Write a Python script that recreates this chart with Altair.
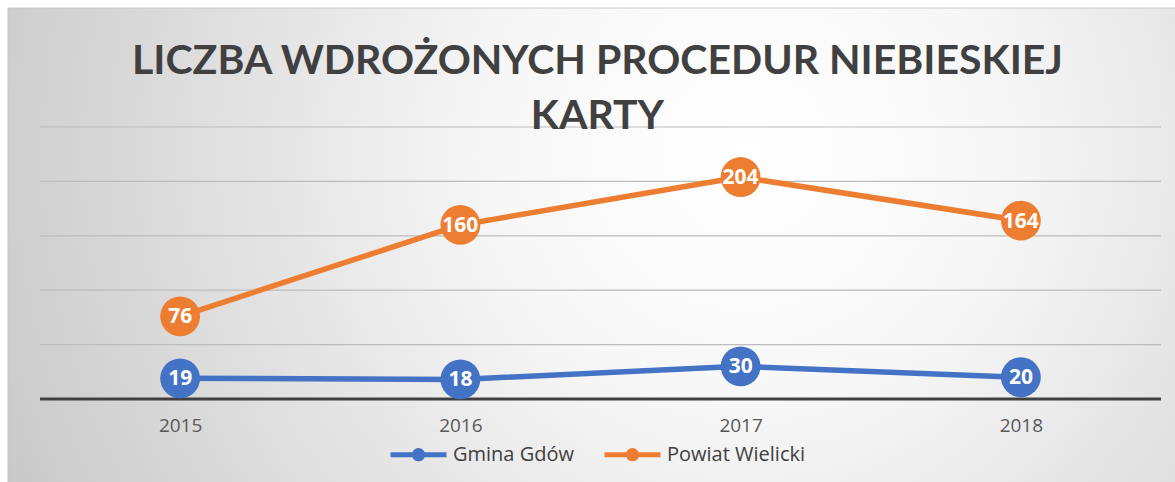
import altair as alt
import pandas as pd

years = ["2015", "2016", "2017", "2018"]
gmina = [19, 18, 30, 20]
powiat = [76, 160, 204, 164]
series_names = ["Gmina Gdów", "Powiat Wielicki"]
colors = ["#4472C4", "#ED7D31"]
grid_values = [50, 100, 150, 200, 250]
baseline_value = [0]
title_lines = ["LICZBA WDROŻONYCH PROCEDUR NIEBIESKIEJ", "KARTY"]

df = pd.DataFrame({
    "year": years * 2,
    "value": gmina + powiat,
    "series": [series_names[0]] * len(years) + [series_names[1]] * len(years),
})

W, H = 1121, 272
FONT = "Open Sans"
TITLE_FONT = "Lato"

# symbol: a line with a dot, drawn wider than the symbol's nominal box
legend_path = ("M-1,0L3,0M1.3,0A0.3,0.3,0,1,1,0.7,0"
               "A0.3,0.3,0,1,1,1.3,0Z")

x = alt.X("year:O", scale=alt.Scale(type="point", padding=0.5),
          axis=alt.Axis(title=None, domain=False, ticks=False, grid=False,
                        labelFontSize=19, labelColor="#595959", labelFont=FONT,
                        labelPadding=17, labelAngle=0, zindex=1))
yscale = alt.Scale(domain=[0, 250], nice=False, zero=True)
y = alt.Y("value:Q", scale=yscale, axis=None)
color = alt.Color("series:N", scale=alt.Scale(domain=series_names, range=colors),
                  legend=alt.Legend(title=None, orient="none", legendX=348, legendY=311,
                                    direction="horizontal", symbolType=legend_path,
                                    symbolSize=784, symbolStrokeWidth=5,
                                    symbolOpacity=1,
                                    labelFontSize=20, labelFont=FONT,
                                    labelColor="#404040", labelOffset=32,
                                    columnPadding=20))

gradient = alt.RadialGradient(
    gradient="radial",
    stops=[alt.GradientStop(offset=0, color="#ffffff"),
           alt.GradientStop(offset=0.3, color="#f7f7f7"),
           alt.GradientStop(offset=1, color="#c6c6c6")],
    x1=0.63, y1=0.42, r1=0, x2=0.63, y2=0.42, r2=0.72)

bg = alt.Chart(pd.DataFrame({"k": [0]})).mark_rect(
    fill=gradient, stroke="#c8c8c8", strokeWidth=1).encode(
    x=alt.value(-32), x2=alt.value(1140), y=alt.value(-119), y2=alt.value(360))

grid = alt.Chart(pd.DataFrame({"g": grid_values})).mark_rule(
    color="#bcbcbc", strokeWidth=1.2).encode(y=alt.Y("g:Q", scale=yscale, axis=None))

base_line = alt.Chart(pd.DataFrame({"b": baseline_value})).mark_rule(
    color="#404040", strokeWidth=3).encode(y=alt.Y("b:Q", scale=yscale, axis=None))

base = alt.Chart(df)
lines = base.mark_line(strokeWidth=5.5, strokeCap="round", strokeJoin="round").encode(
    x=x, y=y, color=color)
points = base.mark_point(filled=True, size=1590, opacity=1, shape="circle").encode(
    x=x, y=y, color=color)
labels = base.mark_text(color="white", fontSize=21, fontWeight="bold", font=FONT,
                        baseline="middle", align="center", dy=1).encode(
    x=x, y=y, text="value:Q")

title = alt.Chart(pd.DataFrame({"k": [0]})).mark_text(
    text=title_lines, lineHeight=55, fontSize=41, fontWeight="bold", font=TITLE_FONT,
    color="#404040", align="center", baseline="alphabetic").encode(
    x=alt.value(557.5), y=alt.value(-53))

chart = alt.layer(bg, grid, base_line, lines, points, labels, title).properties(
    width=W, height=H, autosize="none", background="white",
    padding={"left": 40, "top": 127, "right": 14, "bottom": 83},
).configure_view(stroke=None)

chart.save("out.html", embed_options={"renderer": "svg", "actions": False})
